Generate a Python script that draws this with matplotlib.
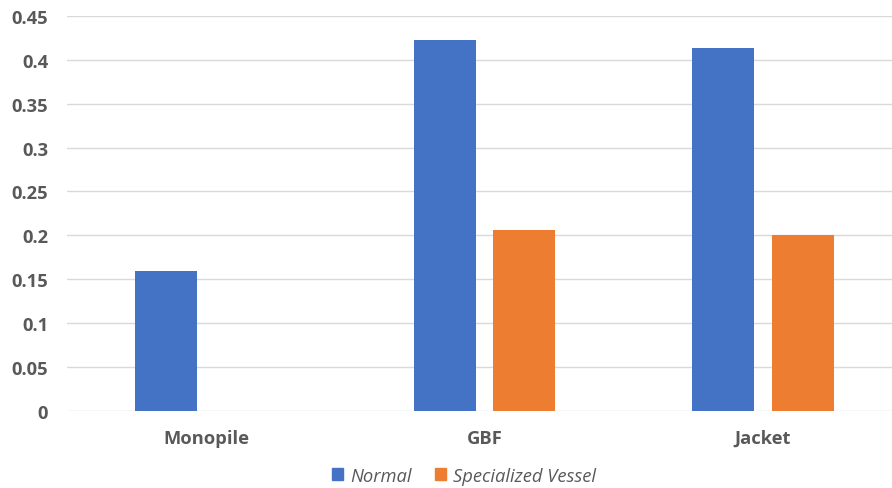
import numpy as np
import matplotlib
matplotlib.use('Agg')
import matplotlib.pyplot as plt
from matplotlib.patches import Patch

# Foundation types and their values for each case
categories = ["Monopile", "GBF", "Jacket"]
normal = [0.159, 0.423, 0.413]
specialized = [np.nan, 0.206, 0.200]
series_names = ["Normal", "Specialized Vessel"]
y_ticks = [0, 0.05, 0.1, 0.15, 0.2, 0.25, 0.3, 0.35, 0.4, 0.45]
y_tick_labels = ["0", "0.05", "0.1", "0.15", "0.2", "0.25", "0.3", "0.35", "0.4", "0.45"]

BLUE = "#4472C4"
ORANGE = "#ED7D31"
TEXT = "#595959"
GRID = "#D9D9D9"
FS = 13.2

plt.rcParams['font.family'] = ['Open Sans', 'DejaVu Sans']

fig = plt.figure(figsize=(8.92, 4.89), dpi=100)
ax = fig.add_axes([0.0751, 0.1581, 1 - 0.0751, 0.9652 - 0.1581])

x = np.arange(len(categories))
width = 0.222
offset = 0.143
ax.bar(x - offset, normal, width, color=BLUE, zorder=3)
ax.bar(x + offset, specialized, width, color=ORANGE, zorder=3)

ax.set_xlim(-0.5, 2 + 129 / 278)
ax.set_ylim(0, 0.45)
ax.set_yticks(y_ticks)
ax.set_yticklabels(y_tick_labels)
ax.set_xticks(x)
ax.set_xticklabels(categories)

ax.grid(axis='y', color=GRID, linewidth=1, zorder=0)
for side in ['top', 'right', 'left', 'bottom']:
    ax.spines[side].set_visible(False)
ax.tick_params(axis='both', length=0, colors=TEXT, labelsize=FS)
ax.tick_params(axis='y', pad=13.5)
ax.tick_params(axis='x', pad=13)
for lbl in ax.get_xticklabels() + ax.get_yticklabels():
    lbl.set_fontweight('bold')
    lbl.set_color(TEXT)

handles = [Patch(color=BLUE), Patch(color=ORANGE)]
leg = fig.legend(handles, series_names, loc='center', bbox_to_anchor=(464 / 892, 0.0252),
                 ncol=2, frameon=False, fontsize=FS, handlelength=0.6, handleheight=0.6,
                 handletextpad=0.35, columnspacing=1.3, borderaxespad=0)
for t in leg.get_texts():
    t.set_color(TEXT)
    t.set_fontstyle('italic')

fig.savefig("out.png", dpi=100)
